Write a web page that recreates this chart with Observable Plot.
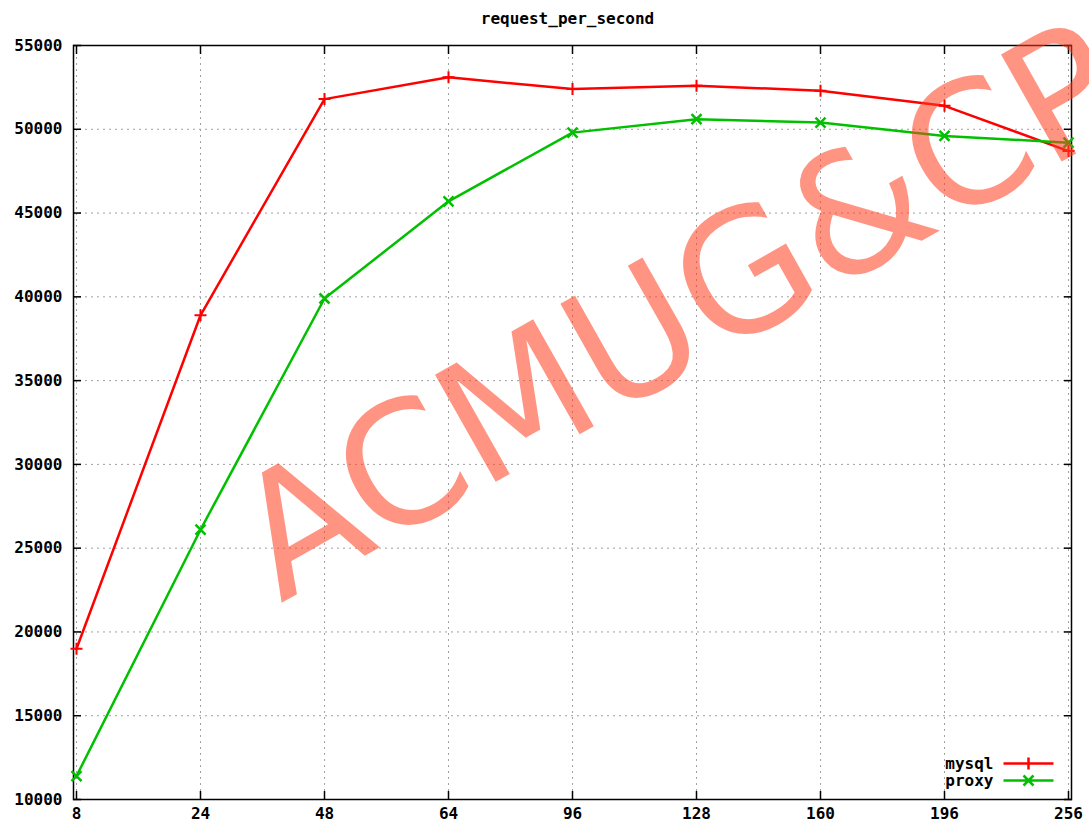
<!DOCTYPE html>
<html>
<head>
<meta charset="utf-8">
<script src="https://cdn.jsdelivr.net/npm/d3@7"></script>
<script src="https://cdn.jsdelivr.net/npm/@observablehq/plot@0.6"></script>
<style>
  html, body { margin: 0; padding: 0; background: #fff; }
</style>
</head>
<body>
<div id="chart"></div>
<script>
const threads = [8, 24, 48, 64, 96, 128, 160, 196, 256];
const mysql = [19000, 38900, 51800, 53100, 52400, 52600, 52300, 51400, 48700];
const proxy = [11400, 26100, 39900, 45700, 49800, 50600, 50400, 49600, 49200];
const yTicks = [10000, 15000, 20000, 25000, 30000, 35000, 40000, 45000, 50000, 55000];
const seriesNames = ["mysql", "proxy"];
const seriesColors = ["#ff0000", "#00c000"];
const titleText = "request_per_second";
const watermark = "ACMUG&CP";

const rows = threads.map((t, i) => ({t, mysql: mysql[i], proxy: proxy[i]}));

const legendPlus = {draw(ctx) { ctx.moveTo(-25, 0); ctx.lineTo(25, 0); ctx.moveTo(0, -6); ctx.lineTo(0, 6); }};
const legendTimes = {draw(ctx) { ctx.moveTo(-25, 0); ctx.lineTo(25, 0); ctx.moveTo(-5, -5); ctx.lineTo(5, 5); ctx.moveTo(-5, 5); ctx.lineTo(5, -5); }};
const markPlus = {draw(ctx) { ctx.moveTo(-6, 0); ctx.lineTo(6, 0); ctx.moveTo(0, -6); ctx.lineTo(0, 6); }};
const markTimes = {draw(ctx) { ctx.moveTo(-5, -5); ctx.lineTo(5, 5); ctx.moveTo(-5, 5); ctx.lineTo(5, -5); }};

const gridStyle = {stroke: "#a0a0a0", strokeOpacity: 1, strokeDasharray: "2,4", strokeWidth: 1};
const font = "DejaVu Sans Mono";

const chart = Plot.plot({
  width: 1089,
  height: 828,
  marginLeft: 73,
  marginRight: 18,
  marginTop: 45,
  marginBottom: 29,
  style: {fontFamily: font, fontSize: "16px", fontWeight: "bold", color: "black", background: "white"},
  x: {type: "point", domain: threads, padding: 0},
  y: {domain: [10000, 55000]},
  marks: [
    Plot.gridX(threads, gridStyle),
    Plot.gridY(yTicks, gridStyle),
    Plot.frame({stroke: "black", strokeWidth: 1.5}),
    Plot.axisY(yTicks, {anchor: "left", tickSize: -8, tickPadding: 19, tickFormat: d => String(d), label: null, strokeWidth: 1.5}),
    Plot.axisY(yTicks, {anchor: "right", tickSize: -8, tickFormat: () => "", label: null, strokeWidth: 1.5}),
    Plot.axisX(threads, {anchor: "bottom", tickSize: -8, tickPadding: 16, tickFormat: d => String(d), label: null, strokeWidth: 1.5}),
    Plot.axisX(threads, {anchor: "top", tickSize: -8, tickFormat: () => "", label: null, strokeWidth: 1.5}),
    Plot.line(rows, {x: "t", y: "mysql", stroke: seriesColors[0], strokeWidth: 2.5}),
    Plot.dot(rows, {x: "t", y: "mysql", symbol: markPlus, stroke: seriesColors[0], strokeWidth: 2}),
    Plot.line(rows, {x: "t", y: "proxy", stroke: seriesColors[1], strokeWidth: 2.5}),
    Plot.dot(rows, {x: "t", y: "proxy", symbol: markTimes, stroke: seriesColors[1], strokeWidth: 2.5}),
    Plot.text([seriesNames[0]], {frameAnchor: "bottom-right", dx: -78, dy: -36, textAnchor: "end", lineAnchor: "middle", fontSize: 16, fontWeight: "bold"}),
    Plot.text([seriesNames[1]], {frameAnchor: "bottom-right", dx: -78, dy: -19, textAnchor: "end", lineAnchor: "middle", fontSize: 16, fontWeight: "bold"}),
    Plot.dot([0], {frameAnchor: "bottom-right", dx: -43, dy: -36, symbol: legendPlus, stroke: seriesColors[0], strokeWidth: 2.5}),
    Plot.dot([0], {frameAnchor: "bottom-right", dx: -43, dy: -19, symbol: legendTimes, stroke: seriesColors[1], strokeWidth: 2.5}),
    Plot.text([titleText], {frameAnchor: "top", dx: -5, dy: -27, lineAnchor: "middle", fontSize: 16, fontWeight: "bold"}),
    Plot.text([watermark], {frameAnchor: "top-left", dx: 207, dy: 558, rotate: -29.5, textAnchor: "start", lineAnchor: "bottom",
      fontSize: 169, fontFamily: "DejaVu Sans", fontWeight: "normal", fill: "rgb(255,60,30)", fillOpacity: 0.55})
  ]
});
document.getElementById("chart").appendChild(chart);
</script>
</body>
</html>
